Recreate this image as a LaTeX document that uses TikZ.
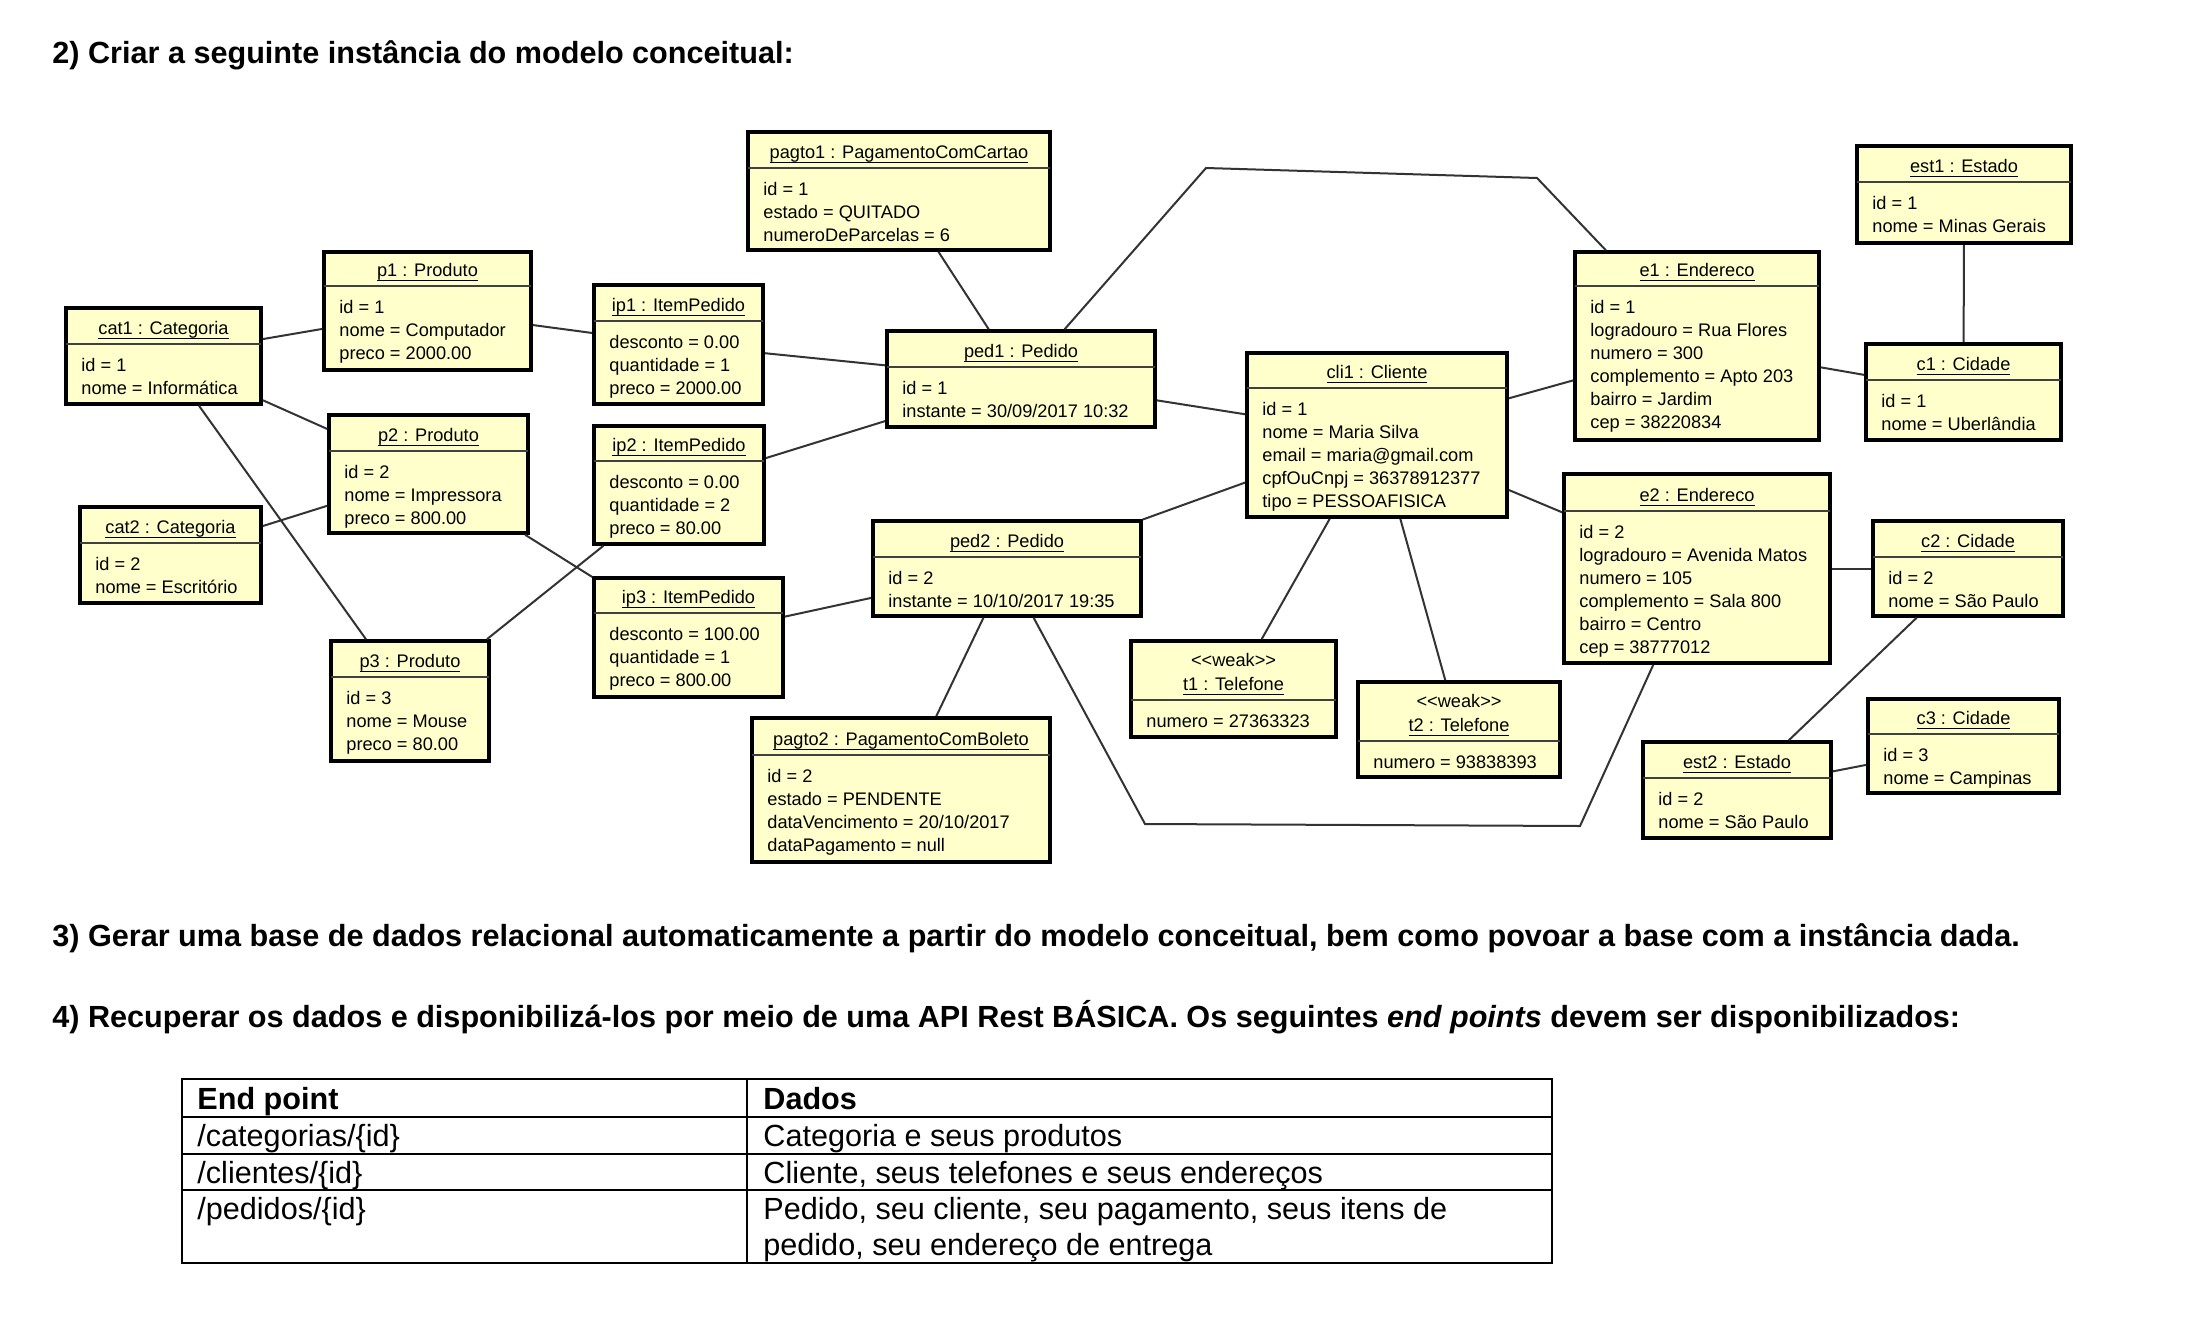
\documentclass[tikz,border=0pt]{standalone}
\usepackage{fontspec}
\setmainfont{Liberation Sans}
\usetikzlibrary{fit}

\definecolor{objfill}{RGB}{255,255,204}
\newsavebox\ulbox
\newcommand{\ulx}[1]{\sbox\ulbox{#1}\rlap{\vrule width\wd\ulbox height -1.5pt depth 2.1pt}\usebox\ulbox}

\tikzset{
  objbox/.style={draw=black, line width=1.8pt, fill=objfill, inner sep=0pt},
  hdrline/.style={draw=black!75, line width=1pt},
  objtext/.style={inner sep=0pt, font=\fontsize{9.1pt}{11pt}\selectfont, text=black},
  conn/.style={draw=black!80, line width=1pt},
  maintext/.style={inner sep=0pt, font=\fontsize{15.3pt}{18pt}\selectfont, text=black},
  tabline/.style={draw=black, line width=0.8pt},
}

% name, x1, y1, x2, y2, header line y, title, attributes
\newcommand{\umlobj}[8]{%
  \coordinate (#1-nw) at (#2,#3);
  \coordinate (#1-se) at (#4,#5);
  \node[objbox, fit=(#1-nw)(#1-se)] (#1) {};
  \draw[hdrline] (#2,#6) -- (#4,#6);
  \node[objtext, anchor=base] (#1-title) at ({(#2+#4)/2},#6-9.5) {\ulx{#7}};
  \foreach \attr [count=\i] in {#8} {
    \node[objtext, anchor=base west] (#1-a\i) at (#2+15,{#6+27+(\i-1)*23}) {\attr};
  }
}

\begin{document}
\begin{tikzpicture}[x=0.5pt, y=-0.5pt]
\fill[white] (0,0) rectangle (2198,1322);
\useasboundingbox (0,0) rectangle (2198,1322);

\node[maintext, anchor=base west] (q2) at (52,64) {\bfseries 2) Criar a seguinte instância do modelo conceitual:};

% objects
\umlobj{cat1}{66}{308}{261}{404}{344}{cat1 : Categoria}{id = 1, nome = Informática}
\umlobj{cat2}{80}{507}{261}{603}{543}{cat2 : Categoria}{id = 2, nome = Escritório}
\umlobj{p1}{324}{252}{531}{370}{286}{p1 : Produto}{id = 1, nome = Computador, preco = 2000.00}
\umlobj{p2}{329}{415}{528}{533}{451}{p2 : Produto}{id = 2, nome = Impressora, preco = 800.00}
\umlobj{p3}{331}{641}{489}{761}{677}{p3 : Produto}{id = 3, nome = Mouse, preco = 80.00}
\umlobj{ip1}{594}{285}{763}{404}{321}{ip1 : ItemPedido}{desconto = 0.00, quantidade = 1, preco = 2000.00}
\umlobj{ip2}{594}{426}{764}{544}{461}{ip2 : ItemPedido}{desconto = 0.00, quantidade = 2, preco = 80.00}
\umlobj{ip3}{594}{578}{783}{697}{613}{ip3 : ItemPedido}{desconto = 100.00, quantidade = 1, preco = 800.00}
\umlobj{pagto1}{748}{132}{1050}{250}{168}{pagto1 : PagamentoComCartao}{id = 1, estado = QUITADO, numeroDeParcelas = 6}
\umlobj{ped1}{887}{331}{1155}{427}{367}{ped1 : Pedido}{id = 1, instante = 30/09/2017 10:32}
\umlobj{ped2}{873}{521}{1141}{616}{557}{ped2 : Pedido}{id = 2, instante = 10/10/2017 19:35}
\umlobj{pagto2}{752}{718}{1050}{862}{755}{pagto2 : PagamentoComBoleto}{id = 2, estado = PENDENTE, dataVencimento = 20/10/2017, dataPagamento = null}
\umlobj{cli1}{1247}{353}{1507}{517}{388}{cli1 : Cliente}{id = 1, nome = Maria Silva, email = maria@gmail.com, cpfOuCnpj = 36378912377, tipo = PESSOAFISICA}
\umlobj{t1}{1131}{641}{1336}{737}{700}{t1 : Telefone}{numero = 27363323}
\node[objtext, anchor=base] (t1-st) at ({(1131+1336)/2},666) {<\kern0pt<weak>\kern0pt>};
\umlobj{t2}{1358}{682}{1560}{777}{741}{t2 : Telefone}{numero = 93838393}
\node[objtext, anchor=base] (t2-st) at ({(1358+1560)/2},707) {<\kern0pt<weak>\kern0pt>};
\umlobj{e1}{1575}{252}{1819}{440}{286}{e1 : Endereco}{id = 1, logradouro = Rua Flores, numero = 300, complemento = Apto 203, bairro = Jardim, cep = 38220834}
\umlobj{e2}{1564}{474}{1830}{663}{511}{e2 : Endereco}{id = 2, logradouro = Avenida Matos, numero = 105, complemento = Sala 800, bairro = Centro, cep = 38777012}
\umlobj{est1}{1857}{146}{2071}{243}{182}{est1 : Estado}{id = 1, nome = Minas Gerais}
\umlobj{c1}{1866}{344}{2061}{440}{380}{c1 : Cidade}{id = 1, nome = Uberlândia}
\umlobj{c2}{1873}{521}{2063}{616}{557}{c2 : Cidade}{id = 2, nome = São Paulo}
\umlobj{c3}{1868}{699}{2059}{793}{734}{c3 : Cidade}{id = 3, nome = Campinas}
\umlobj{est2}{1643}{742}{1831}{838}{778}{est2 : Estado}{id = 2, nome = São Paulo}

% bend points
\coordinate (bA) at (1206,168);
\coordinate (bB) at (1537,178);
\coordinate (bC) at (1145,824);
\coordinate (bD) at (1580,826);

% connectors
\draw[conn] (cat1) -- (p1);
\draw[conn] (cat1) -- (p2);
\draw[conn] (cat1) -- (p3);
\draw[conn] (cat2) -- (p2);
\draw[conn] (p1) -- (ip1);
\draw[conn] (p2) -- (ip3);
\draw[conn] (p3) -- (ip2);
\draw[conn] (ip1) -- (ped1);
\draw[conn] (ip2) -- (ped1);
\draw[conn] (ip3) -- (ped2);
\draw[conn] (pagto1) -- (ped1);
\draw[conn] (ped1) -- (cli1);
\draw[conn] (ped2) -- (cli1);
\draw[conn] (ped2) -- (pagto2);
\draw[conn] (cli1) -- (t1);
\draw[conn] (cli1) -- (t2);
\draw[conn] (cli1) -- (e1);
\draw[conn] (cli1) -- (e2);
\draw[conn] (e1) -- (c1);
\draw[conn] (est1) -- (c1);
\draw[conn] (e2) -- (c2);
\draw[conn] (c2) -- (est2);
\draw[conn] (est2) -- (c3);
\draw[conn] (ped1) -- (bA) -- (bB) -- (e1);
\draw[conn] (ped2) -- (bC) -- (bD) -- (e2);

% text
\node[maintext, anchor=base west] (q3) at (52,946) {\bfseries 3) Gerar uma base de dados relacional automaticamente a partir do modelo conceitual, bem como povoar a base com a instância dada.};
\node[maintext, anchor=base west] (q4) at (52,1027) {\bfseries 4) Recuperar os dados e disponibilizá-los por meio de uma API Rest BÁSICA. Os seguintes \textit{end points} devem ser disponibilizados:};

% table
\draw[tabline] (182,1079) rectangle (1552,1263);
\draw[tabline] (182,1117) -- (1552,1117);
\draw[tabline] (182,1154) -- (1552,1154);
\draw[tabline] (182,1190) -- (1552,1190);
\draw[tabline] (747,1079) -- (747,1263);
\node[maintext, anchor=base west] (h1) at (197,1109) {\bfseries End point};
\node[maintext, anchor=base west] (h2) at (763,1109) {\bfseries Dados};
\node[maintext, anchor=base west] (r1a) at (197,1146) {/categorias/\{id\}};
\node[maintext, anchor=base west] (r1b) at (763,1146) {Categoria e seus produtos};
\node[maintext, anchor=base west] (r2a) at (197,1183) {/clientes/\{id\}};
\node[maintext, anchor=base west] (r2b) at (763,1183) {Cliente, seus telefones e seus endereços};
\node[maintext, anchor=base west] (r3a) at (197,1219) {/pedidos/\{id\}};
\node[maintext, anchor=base west] (r3b) at (763,1219) {Pedido, seu cliente, seu pagamento, seus itens de};
\node[maintext, anchor=base west] (r3c) at (763,1255) {pedido, seu endereço de entrega};
\end{tikzpicture}
\end{document}
